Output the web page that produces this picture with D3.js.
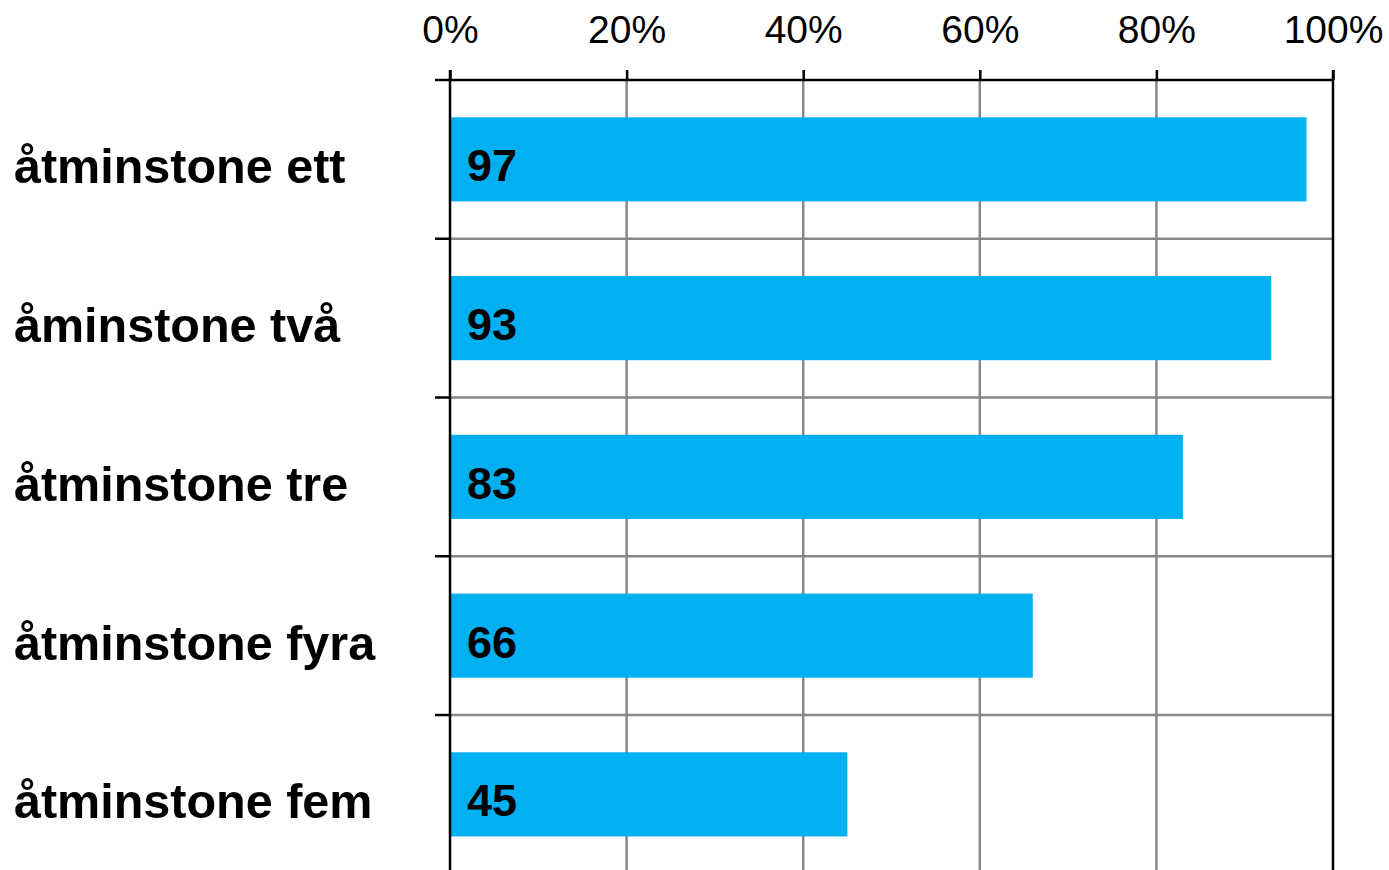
<!DOCTYPE html>
<html>
<head>
<meta charset="utf-8">
<script src="https://cdnjs.cloudflare.com/ajax/libs/d3/7.8.5/d3.min.js"></script>
<style>
  body{margin:0;background:#fff;}
  svg{display:block;font-family:"Liberation Sans",Arial,sans-serif;}
</style>
</head>
<body>
<div id="chart"></div>
<script>
// data
var categories=["åtminstone ett","åminstone två","åtminstone tre","åtminstone fyra","åtminstone fem"];
var values=[97,93,83,66,45];
var tickValues=[0,20,40,60,80,100];
var tickLabels=["0%","20%","40%","60%","80%","100%"];

var W=1389,H=870;
var plotLeft=450,plotRight=1333,plotTop=80,step=158.75;
var barColor="#00b0f0";
var gridColor="#888888";

var svg=d3.select("#chart").append("svg").attr("width",W).attr("height",H);

var x=d3.scaleLinear().domain([0,100]).range([plotLeft,plotRight]);
var y=d3.scaleBand().domain(categories).range([plotTop,plotTop+step*categories.length])
    .paddingInner(0.47).paddingOuter(0.235);

// vertical grid
svg.append("g").selectAll("line").data(tickValues.slice(1,-1)).enter().append("line")
    .attr("x1",function(d){return x(d);}).attr("x2",function(d){return x(d);})
    .attr("y1",plotTop).attr("y2",H)
    .attr("stroke",gridColor).attr("stroke-width",2.5);

// horizontal grid at category boundaries
var bounds=categories.map(function(c,i){return plotTop+i*y.step();});
svg.append("g").selectAll("line").data(bounds.slice(1)).enter().append("line")
    .attr("x1",plotLeft).attr("x2",plotRight)
    .attr("y1",function(d){return d;}).attr("y2",function(d){return d;})
    .attr("stroke",gridColor).attr("stroke-width",2.5);

// bars
svg.append("g").selectAll("rect").data(values).enter().append("rect")
    .attr("x",x(0))
    .attr("y",function(d,i){return y(categories[i]);})
    .attr("width",function(d){return x(d)-x(0);})
    .attr("height",y.bandwidth())
    .attr("fill",barColor);

// value labels
svg.append("g").selectAll("text").data(values).enter().append("text")
    .attr("x",x(0)+17)
    .attr("y",function(d,i){return y(categories[i])+y.bandwidth()/2+22;})
    .attr("font-size",45).attr("font-weight","bold").attr("fill","#000")
    .text(function(d){return d;});

// right border (100%)
svg.append("line").attr("x1",x(100)).attr("x2",x(100)).attr("y1",plotTop-10).attr("y2",H)
    .attr("stroke","#000").attr("stroke-width",2.5);

// top axis
var xAxis=d3.axisTop(x).tickValues(tickValues).tickSize(10)
    .tickFormat(function(d,i){return tickLabels[i];});
var gx=svg.append("g").attr("transform","translate(0,"+plotTop+")").call(xAxis);
gx.select(".domain").remove();
gx.selectAll(".tick line").attr("stroke","#000").attr("stroke-width",2.5);
gx.selectAll(".tick text").attr("font-size",39).attr("fill","#000")
    .attr("font-family","Liberation Sans, Arial, sans-serif").attr("y",-37).attr("dy",0);
gx.append("line").attr("x1",plotLeft-15).attr("x2",plotRight).attr("y1",0).attr("y2",0)
    .attr("stroke","#000").attr("stroke-width",2.5);

// left axis
svg.append("line").attr("x1",plotLeft).attr("x2",plotLeft).attr("y1",plotTop-10).attr("y2",H)
    .attr("stroke","#000").attr("stroke-width",2.5);
svg.append("g").selectAll("line").data(bounds.slice(1)).enter().append("line")
    .attr("x1",plotLeft-15).attr("x2",plotLeft)
    .attr("y1",function(d){return d;}).attr("y2",function(d){return d;})
    .attr("stroke","#000").attr("stroke-width",2.5);

// category labels
svg.append("g").selectAll("text").data(categories).enter().append("text")
    .attr("x",14)
    .attr("y",function(d){return y(d)+y.bandwidth()/2+24;})
    .attr("font-size",48.5).attr("font-weight","bold").attr("fill","#000")
    .text(function(d){return d;});
</script>
</body>
</html>
